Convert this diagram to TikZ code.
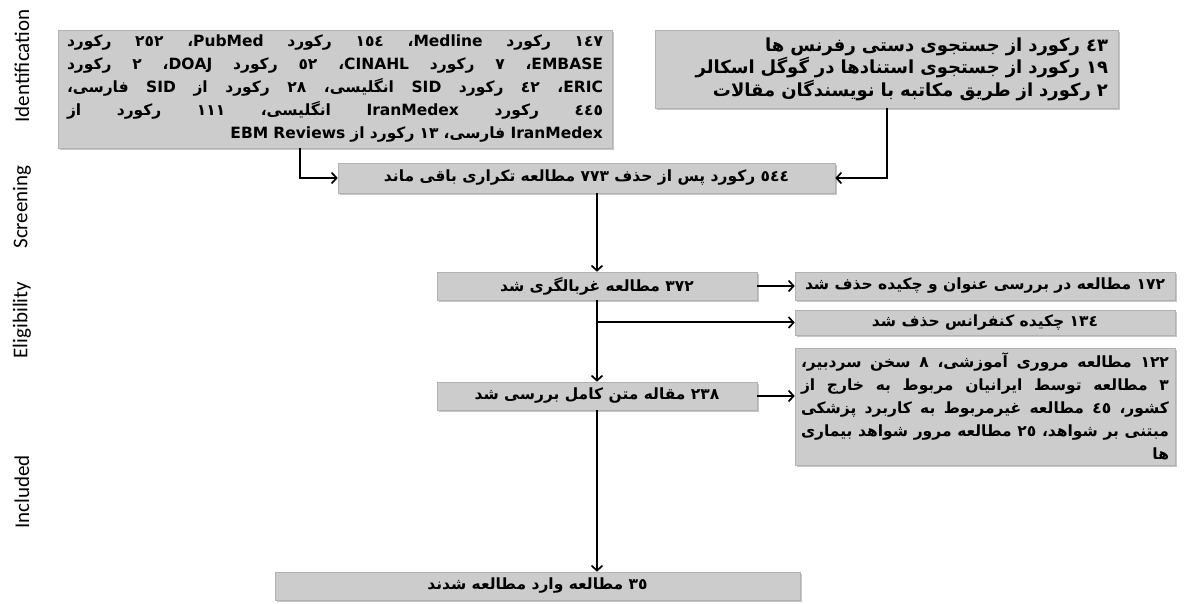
\documentclass[tikz,border=0pt]{standalone}
\usepackage{fontspec}
\usetikzlibrary{arrows.meta,shadows}
\TeXXeTstate=1
\newfontfamily\ar[Script=Arabic]{DejaVu Sans}
\newfontfamily\lab{Carlito}
\newcommand\jl[1]{\hbox to \linewidth{\spaceskip=0.3em plus 1fil minus 0.05em\beginR #1\endR}}
\newcommand\rl[1]{\hbox to \linewidth{\hfil\beginR #1\endR}}
\newcommand\C{\kern0pt ،}
\definecolor{boxgray}{RGB}{204,204,204}
\begin{document}
\begin{tikzpicture}[x=1pt,y=-1pt,
  box/.style={draw=gray!60, line width=0.6pt, fill=boxgray,
    drop shadow={shadow xshift=1.5pt, shadow yshift=-2pt, opacity=0.45},
    inner sep=0pt, font=\ar\bfseries\fontsize{15.5}{23}\selectfont},
  stage/.style={rotate=90, font=\lab\fontsize{21}{24}\selectfont},
  link/.style={line width=2pt, draw=black},
  arr/.style={link, -{Straight Barb[length=5pt,width=11pt,line width=1.7pt]}}]
\useasboundingbox (0,0) rectangle (1187,604);

% stage labels
\node[stage] (lid) at (22,66) {Identification};
\node[stage] (lsc) at (22,207) {Screening};
\node[stage] (lel) at (22,320) {Eligibility};
\node[stage] (lin) at (22,492) {Included};

% boxes
\node[box, minimum width=554, minimum height=118, text width=536] (b1) at (335,89) {%
\jl{١٤٧ رکورد Medline\C{} ١٥٤ رکورد PubMed\C{} ٢٥٢ رکورد}
\jl{EMBASE\C{} ٧ رکورد CINAHL\C{} ٥٢ رکورد DOAJ\C{} ٢ رکورد}
\jl{ERIC\C{} ٤٢ رکورد SID انگلیسی، ٢٨ رکورد از SID فارسی،}
\jl{٤٤٥ رکورد IranMedex انگلیسی، ١١١ رکورد از}
\rl{IranMedex فارسی، ١٣ رکورد از \beginL EBM Reviews\endL}};

\node[box, minimum width=463, minimum height=78, text width=443,
  font=\ar\bfseries\fontsize{18}{22.5}\selectfont] (b2) at (886.5,69) {%
\rl{٤٣ رکورد از جستجوی دستی رفرنس ها}
\rl{١٩ رکورد از جستجوی استنادها در گوگل اسکالر}
\rl{٢ رکورد از طریق مکاتبه با نویسندگان مقالات}};

\node[box, minimum width=497, minimum height=30] (sc) at (586.5,178)
  {\beginR ٥٤٤ رکورد پس از حذف ٧٧٣ مطالعه تکراری باقی ماند\endR};

\node[box, minimum width=320, minimum height=28] (s372) at (597,286)
  {\beginR ٣٧٢ مطالعه غربالگری شد\endR};

\node[box, minimum width=380, minimum height=28] (e172) at (985,286)
  {\beginR ١٧٢ مطالعه در بررسی عنوان و چکیده حذف شد\endR};

\node[box, minimum width=380, minimum height=25] (e134) at (985,322.5)
  {\beginR ١٣٤ چکیده کنفرانس حذف شد\endR};

\node[box, minimum width=380, minimum height=117, text width=368] (ebig) at (985,406.5) {%
\jl{١٢٢ مطالعه مروری آموزشی، ٨ سخن سردبیر،}
\jl{٣ مطالعه توسط ایرانیان مربوط به خارج از}
\jl{کشور، ٤٥ مطالعه غیرمربوط به کاربرد پزشکی}
\jl{مبتنی بر شواهد، ٢٥ مطالعه مرور شواهد بیماری}
\rl{ها}};

\node[box, minimum width=320, minimum height=28] (f238) at (597,396)
  {\beginR ٢٣٨ مقاله متن کامل بررسی شد\endR};

\node[box, minimum width=525, minimum height=28] (inc) at (537.5,586)
  {\beginR ٣٥ مطالعه وارد مطالعه شدند\endR};

% connectors
\coordinate (c1) at (300,178);
\draw[arr] (b1.south -| c1) |- (sc.west);
\draw[arr] (b2.south) |- (sc.east);
\draw[arr] (sc.south -| s372.north) -- (s372.north);
\draw[arr] (s372.east) -- (e172.west);
\draw[arr] (e134.west -| s372.south) -- (e134.west);
\draw[arr] (s372.south) -- (f238.north);
\draw[arr] (f238.east) -- (f238.east -| ebig.west);
\draw[arr] (f238.south) -- (f238.south |- inc.north);
\end{tikzpicture}
\end{document}
